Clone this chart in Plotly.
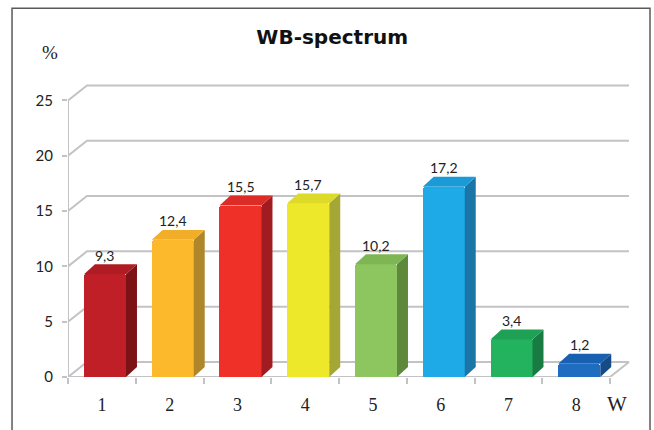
import plotly.graph_objects as go

# WB-spectrum: share of each W class, percent
categories = ["1", "2", "3", "4", "5", "6", "7", "8"]
values = [9.3, 12.4, 15.5, 15.7, 10.2, 17.2, 3.4, 1.2]
y_ticks = [0, 5, 10, 15, 20, 25]

front_colors = ["#C11F28", "#FDB92C", "#EE3028", "#EEE82B",
                "#8DC55E", "#1DAAE6", "#23B25E", "#1F6DC0"]
side_colors = ["#7A1216", "#B0862A", "#A01C21", "#A5A735",
               "#5E893C", "#1B75A6", "#187B41", "#154C88"]
top_colors = ["#B01C24", "#F2AE28", "#DD2C25", "#DDDA2A",
              "#7EB653", "#1A9BD8", "#1FA155", "#1A60B0"]

n = len(categories)
x_max = 8.295
y_max = 26.85

# pseudo-3D geometry (data units)
wall_dx, wall_dy = 0.28, 1.36     # back wall offset
bar_left, bar_w = 0.236, 0.62     # front face inside each category slot
bar_dx, bar_dy = 0.162, 0.90      # bar depth

GRID = "#C3C3C6"
fig = go.Figure()

# front faces
centers = [i + bar_left + bar_w / 2 for i in range(n)]
fig.add_trace(go.Bar(
    x=centers, y=values, width=bar_w,
    marker=dict(color=front_colors, line=dict(width=0), cornerradius=3),
    hoverinfo="skip", showlegend=False,
))

# side and top faces
for i, v in enumerate(values):
    xl = i + bar_left
    xr = xl + bar_w
    fig.add_trace(go.Scatter(
        x=[xr, xr + bar_dx, xr + bar_dx, xr, xr],
        y=[0, bar_dy, v + bar_dy, v, 0],
        fill="toself", fillcolor=side_colors[i], mode="lines",
        line=dict(width=0, color=side_colors[i]),
        hoverinfo="skip", showlegend=False,
    ))
    fig.add_trace(go.Scatter(
        x=[xl, xl + bar_dx, xr + bar_dx, xr, xl],
        y=[v, v + bar_dy, v + bar_dy, v, v],
        fill="toself", fillcolor=top_colors[i], mode="lines",
        line=dict(width=0, color=top_colors[i]),
        hoverinfo="skip", showlegend=False,
    ))

# back wall gridlines with their diagonal connectors
shapes = []
for t in y_ticks:
    shapes.append(dict(
        type="path", layer="below",
        path=f"M 0,{t} L {wall_dx},{t + wall_dy} L {n + wall_dx},{t + wall_dy}",
        line=dict(color=GRID, width=2), xref="x", yref="y",
    ))
# floor front edge, right edge and vertical axis
shapes.append(dict(type="line", layer="below", x0=0, y0=0, x1=n, y1=0,
                   line=dict(color=GRID, width=2), xref="x", yref="y"))
shapes.append(dict(type="line", layer="below", x0=n, y0=0, x1=n + wall_dx, y1=wall_dy,
                   line=dict(color=GRID, width=2), xref="x", yref="y"))
shapes.append(dict(type="line", layer="below", x0=0, y0=0, x1=0, y1=y_ticks[-1],
                   line=dict(color=GRID, width=2), xref="x", yref="y"))
# outer frame
shapes.append(dict(type="rect", xref="paper", yref="paper",
                   x0=-0.0996, x1=1.0356, y0=-0.25, y1=1.242,
                   line=dict(color="#5A5A5A", width=1.5), fillcolor="rgba(0,0,0,0)"))

annotations = []
for i, v in enumerate(values):
    annotations.append(dict(
        x=centers[i], y=v + bar_dy, xref="x", yref="y",
        text=f"{v:.1f}".replace(".", ","), showarrow=False,
        xanchor="center", yanchor="middle", yshift=9,
        font=dict(family="Lato", size=14, color="#222222"),
    ))
annotations.append(dict(x=-0.032, y=1.091, xref="paper", yref="paper", text="%",
                        xanchor="center", yanchor="middle", showarrow=False,
                        font=dict(family="Liberation Serif", size=19, color="#222")))
annotations.append(dict(x=0.977, y=-0.091, xref="paper", yref="paper", text="W",
                        xanchor="center", yanchor="middle", showarrow=False,
                        font=dict(family="Liberation Serif", size=21, color="#222")))

fig.update_layout(
    width=654, height=430,
    margin=dict(l=68, r=24, t=80, b=53),
    paper_bgcolor="white", plot_bgcolor="white",
    bargap=0,
    title=dict(text="<b>WB-spectrum</b>", x=0.508, y=0.914, xanchor="center", yanchor="middle",
               font=dict(family="DejaVu Sans", size=20, color="#111111")),
    xaxis=dict(range=[0, x_max], showgrid=False, zeroline=False, showline=False,
               tickmode="array", tickvals=[i + 0.5 for i in range(n)], ticktext=categories,
               ticks="", ticklabelstandoff=15,
               tickfont=dict(family="Liberation Serif", size=18, color="#222"),
               minor=dict(tickmode="array", tickvals=list(range(n + 1)), ticks="outside",
                          ticklen=6, tickwidth=1.5, tickcolor=GRID, showgrid=False),
               fixedrange=True),
    yaxis=dict(range=[0, y_max], showgrid=False, zeroline=False, showline=False,
               tickmode="array", tickvals=y_ticks, ticks="outside", ticklen=5,
               tickwidth=1.5, tickcolor=GRID, ticklabelstandoff=6,
               tickfont=dict(family="Lato", size=15, color="#222"),
               fixedrange=True),
    shapes=shapes,
    annotations=annotations,
)

fig.write_html("out.html")
